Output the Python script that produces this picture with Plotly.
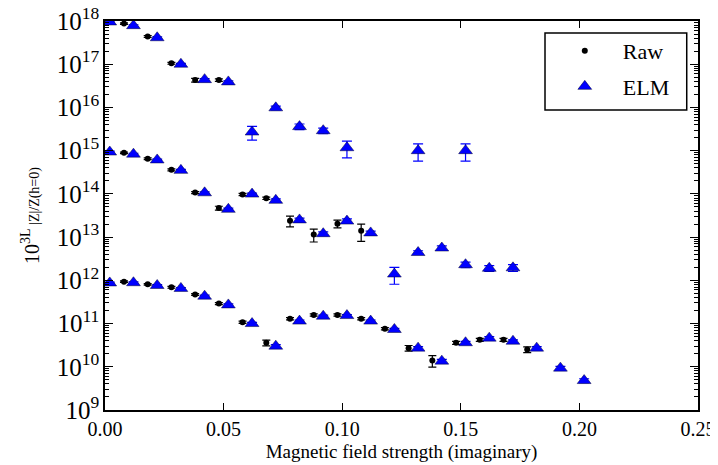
import plotly.graph_objects as go

# ---- data ----
# top group (~1e18)
elm_top_x = [0.002, 0.012, 0.022, 0.032, 0.042, 0.052, 0.062, 0.072, 0.082, 0.092, 0.102, 0.132, 0.152]
elm_top_y = [9.5e17, 7.8e17, 4.1e17, 1.0e17, 4.4e16, 3.9e16, 2.7e15, 9.8e15, 3.6e15, 2.9e15, 1.17e15, 1.0e15, 1.0e15]
elm_top_rel = [0.05, 0.05, 0.05, 0.05, 0.06, 0.06, 0.35, 0.10, 0.15, 0.15, 0.42, 0.43, 0.43]
raw_top_x = [0.008, 0.018, 0.028, 0.038, 0.048]
raw_top_y = [8.7e17, 4.4e17, 1.05e17, 4.3e16, 4.3e16]
raw_top_rel = [0.04, 0.05, 0.05, 0.10, 0.07]

# middle group (~1e15)
elm_mid_x = [0.002, 0.012, 0.022, 0.032, 0.042, 0.052, 0.062, 0.072, 0.082, 0.092, 0.102, 0.112,
             0.122, 0.132, 0.142, 0.152, 0.162, 0.172]
elm_mid_y = [9.3e14, 8.3e14, 6.1e14, 3.5e14, 1.06e14, 4.4e13, 9.9e13, 7.1e13, 2.5e13, 1.2e13, 2.35e13, 1.25e13,
             1.4e12, 4.4e12, 5.6e12, 2.3e12, 1.9e12, 1.95e12]
elm_mid_rel = [0.05, 0.05, 0.05, 0.05, 0.05, 0.06, 0.05, 0.08, 0.10, 0.10, 0.12, 0.10,
               0.42, 0.10, 0.12, 0.15, 0.15, 0.18]
raw_mid_x = [0.008, 0.018, 0.028, 0.038, 0.048, 0.058, 0.068, 0.078, 0.088, 0.098, 0.108]
raw_mid_y = [8.9e14, 6.5e14, 3.6e14, 1.07e14, 4.7e13, 9.7e13, 7.9e13, 2.4e13, 1.15e13, 2.05e13, 1.4e13]
raw_mid_rel = [0.04, 0.05, 0.05, 0.05, 0.10, 0.06, 0.06, 0.28, 0.33, 0.20, 0.43]

# bottom group (~1e12)
elm_bot_x = [0.002, 0.012, 0.022, 0.032, 0.042, 0.052, 0.062, 0.072, 0.082, 0.092, 0.102,
             0.112, 0.122, 0.132, 0.142, 0.152, 0.162, 0.172, 0.182, 0.192, 0.202]
elm_bot_y = [8.7e11, 8.8e11, 7.6e11, 6.5e11, 4.3e11, 2.7e11, 1.0e11, 3.0e10, 1.14e11, 1.48e11, 1.53e11,
             1.14e11, 7.3e10, 2.7e10, 1.35e10, 3.6e10, 4.6e10, 3.9e10, 2.7e10, 9.3e9, 4.8e9]
elm_bot_rel = [0.05, 0.05, 0.05, 0.05, 0.06, 0.06, 0.06, 0.08, 0.06, 0.06, 0.06,
               0.06, 0.06, 0.08, 0.10, 0.08, 0.08, 0.08, 0.08, 0.10, 0.10]
raw_bot_x = [0.008, 0.018, 0.028, 0.038, 0.048, 0.058, 0.068, 0.078, 0.088, 0.098, 0.108,
             0.118, 0.128, 0.138, 0.148, 0.158, 0.168, 0.178]
raw_bot_y = [9.3e11, 8.1e11, 6.9e11, 4.7e11, 2.9e11, 1.07e11, 3.6e10, 1.3e11, 1.58e11, 1.58e11, 1.3e11,
             7.6e10, 2.7e10, 1.4e10, 3.6e10, 4.2e10, 4.2e10, 2.5e10]
raw_bot_rel = [0.04, 0.04, 0.05, 0.05, 0.05, 0.06, 0.15, 0.06, 0.06, 0.06, 0.06,
               0.06, 0.15, 0.30, 0.08, 0.08, 0.08, 0.15]

x_ticks = [0.00, 0.05, 0.10, 0.15, 0.20, 0.25]

raw_x = raw_top_x + raw_mid_x + raw_bot_x
raw_y = raw_top_y + raw_mid_y + raw_bot_y
raw_e = [v * r for v, r in zip(raw_y, raw_top_rel + raw_mid_rel + raw_bot_rel)]
elm_x = elm_top_x + elm_mid_x + elm_bot_x
elm_y = elm_top_y + elm_mid_y + elm_bot_y
elm_e = [v * r for v, r in zip(elm_y, elm_top_rel + elm_mid_rel + elm_bot_rel)]

FONT = "Liberation Serif, Times New Roman, serif"

fig = go.Figure()
fig.add_trace(go.Scatter(
    x=raw_x, y=raw_y, mode="markers", name="Raw", legendgroup="raw",
    marker=dict(symbol="circle", size=6, color="black"),
    error_y=dict(type="data", array=raw_e, color="black", thickness=1.2, width=4),
))
fig.add_trace(go.Scatter(
    x=elm_x, y=elm_y, mode="markers", name="ELM", legendgroup="elm",
    marker=dict(symbol="triangle-up", size=12, color="#0000ff", line=dict(color="#000033", width=0.5)),
    error_y=dict(type="data", array=elm_e, color="#0000ff", thickness=1.2, width=5),
))

axis_common = dict(
    showline=True, linecolor="black", linewidth=1.5, mirror="ticks",
    ticks="inside", tickcolor="black", tickwidth=1, showgrid=False, zeroline=False,
    tickfont=dict(family=FONT, size=20, color="black"), automargin=False,
    ticklabeloverflow="allow",
)

fig.update_xaxes(
    range=[0, 0.25], tickvals=x_ticks, tickformat=".2f", ticklen=7,
    title=dict(text="Magnetic field strength (imaginary)", font=dict(family=FONT, size=19, color="black"), standoff=6),
    **axis_common,
)
fig.update_yaxes(
    type="log", range=[9, 18], dtick=1, exponentformat="power", ticklen=8,
    minor=dict(ticks="inside", ticklen=4, tickcolor="black", dtick="D1", showgrid=False),
    title=dict(text="10<sup>3L</sup><span style='font-size:14px'> |Z|/Z(h=0)</span>",
               font=dict(family=FONT, size=20, color="black"), standoff=12),
    **axis_common,
)

# legend frame (drawn as a shape so its size matches the reference)
fig.add_shape(type="rect", xref="paper", yref="paper",
              x0=0.742, x1=0.981, y0=0.771, y1=0.969,
              line=dict(color="black", width=1.5), fillcolor="white", layer="below")

fig.update_layout(
    width=710, height=457,
    margin=dict(l=97, r=20, t=13, b=55),
    paper_bgcolor="white", plot_bgcolor="white",
    font=dict(family=FONT, color="black"),
    legend=dict(
        x=0.745, y=0.977, xanchor="left", yanchor="top",
        borderwidth=0, bgcolor="rgba(0,0,0,0)",
        font=dict(family=FONT, size=22, color="black"),
        itemwidth=66, tracegroupgap=4,
    ),
)

fig.write_html("out.html")
